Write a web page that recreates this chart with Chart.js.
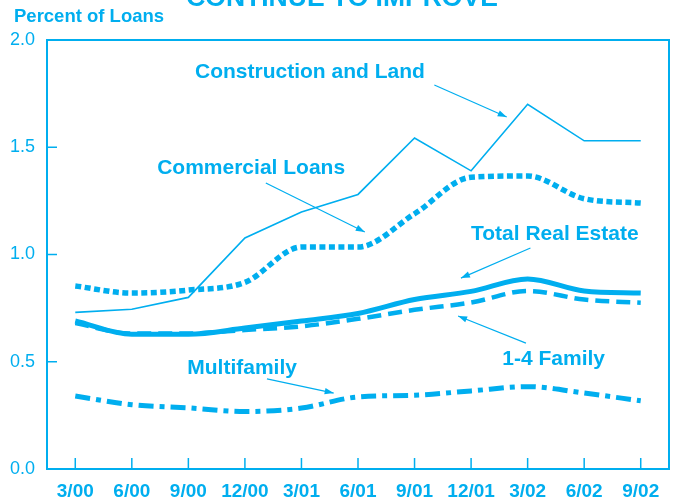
<!DOCTYPE html>
<html lang="en">
<head>
    <meta charset="UTF-8">
    <title>Problem Loans Continue To Improve</title>
    <script src="https://cdn.jsdelivr.net/npm/chart.js"></script>
    <style>
        body { margin: 0; background: #fff; }
        #wrap { width: 673px; height: 500px; }
    </style>
</head>
<body>
<div id="wrap"><canvas id="loanChart" width="673" height="500"></canvas></div>

<script>
    const BLUE = '#00AEEF';

    // quarters on the x axis
    const quarters = ['3/00', '6/00', '9/00', '12/00', '3/01', '6/01', '9/01', '12/01', '3/02', '6/02', '9/02'];
    const yTicks = [0, 0.5, 1.0, 1.5, 2.0];

    // percent of loans
    const constructionLand = [0.73, 0.745, 0.80, 1.077, 1.198, 1.28, 1.543, 1.39, 1.70, 1.53, 1.53];
    const commercialLoans  = [0.853, 0.82, 0.834, 0.87, 1.035, 1.035, 1.19, 1.36, 1.366, 1.26, 1.24];
    const totalRealEstate  = [0.69, 0.628, 0.628, 0.657, 0.69, 0.725, 0.79, 0.828, 0.886, 0.83, 0.82];
    const oneToFourFamily  = [0.68, 0.632, 0.632, 0.648, 0.665, 0.70, 0.742, 0.776, 0.83, 0.79, 0.775];
    const multifamily      = [0.34, 0.30, 0.285, 0.268, 0.284, 0.336, 0.344, 0.364, 0.384, 0.354, 0.318];

    // callout labels, placed in data units (category index, value)
    const callouts = [
        { text: 'Construction and Land', x: 4.15, y: 1.851, from: [6.35, 1.790], to: [7.63, 1.641] },
        { text: 'Commercial Loans',      x: 3.11, y: 1.403, from: [3.37, 1.333], to: [5.12, 1.105] },
        { text: 'Total Real Estate',     x: 8.48, y: 1.096, from: [8.05, 1.030], to: [6.82, 0.890] },
        { text: '1-4 Family',            x: 8.46, y: 0.510, from: [7.97, 0.587], to: [6.77, 0.713] },
        { text: 'Multifamily',           x: 2.95, y: 0.471, from: [3.39, 0.420], to: [4.57, 0.354] }
    ];

    function arrow(ctx, x1, y1, x2, y2) {
        const a = Math.atan2(y2 - y1, x2 - x1);
        ctx.beginPath();
        ctx.moveTo(x1, y1);
        ctx.lineTo(x2, y2);
        ctx.stroke();
        ctx.beginPath();
        ctx.moveTo(x2, y2);
        ctx.lineTo(x2 - 9 * Math.cos(a) + 3.2 * Math.sin(a), y2 - 9 * Math.sin(a) - 3.2 * Math.cos(a));
        ctx.lineTo(x2 - 9 * Math.cos(a) - 3.2 * Math.sin(a), y2 - 9 * Math.sin(a) + 3.2 * Math.cos(a));
        ctx.closePath();
        ctx.fill();
    }

    const decorations = {
        id: 'decorations',
        afterDraw(chart) {
            const ctx = chart.ctx;
            const area = chart.chartArea;
            const xs = chart.scales.x, ys = chart.scales.y;
            ctx.save();
            ctx.strokeStyle = BLUE;
            ctx.fillStyle = BLUE;

            // frame
            ctx.lineWidth = 2;
            ctx.strokeRect(area.left, area.top, area.right - area.left, area.bottom - area.top);

            // inner tick marks
            ctx.lineWidth = 1.5;
            ctx.beginPath();
            quarters.forEach((q, i) => {
                const px = xs.getPixelForValue(i);
                ctx.moveTo(px, area.bottom);
                ctx.lineTo(px, area.bottom - 11);
            });
            yTicks.forEach(v => {
                const py = ys.getPixelForValue(v);
                ctx.moveTo(area.left, py);
                ctx.lineTo(area.left + 10, py);
            });
            ctx.stroke();

            // title (cut off at the top edge) and axis caption
            ctx.textAlign = 'center';
            ctx.textBaseline = 'alphabetic';
            ctx.font = 'bold 26.5px "Liberation Sans", Arial, sans-serif';
            ctx.fillText('CONTINUE TO IMPROVE', 342, 6);

            ctx.textAlign = 'left';
            ctx.textBaseline = 'middle';
            ctx.font = 'bold 18.5px "Liberation Sans", Arial, sans-serif';
            ctx.fillText('Percent of Loans', 14, 17);

            // callouts
            ctx.font = 'bold 21px "Liberation Sans", Arial, sans-serif';
            ctx.textAlign = 'center';
            ctx.lineWidth = 1.2;
            callouts.forEach(c => {
                ctx.fillText(c.text, xs.getPixelForValue(c.x), ys.getPixelForValue(c.y));
                arrow(ctx,
                    xs.getPixelForValue(c.from[0]), ys.getPixelForValue(c.from[1]),
                    xs.getPixelForValue(c.to[0]), ys.getPixelForValue(c.to[1]));
            });
            ctx.restore();
        }
    };

    const ctx = document.getElementById('loanChart').getContext('2d');

    new Chart(ctx, {
        type: 'line',
        data: {
            labels: quarters,
            datasets: [
                { label: 'Construction and Land', data: constructionLand, borderColor: BLUE, borderWidth: 1.6, tension: 0 },
                { label: 'Commercial Loans', data: commercialLoans, borderColor: BLUE, borderWidth: 5.5, borderDash: [6, 3.5], cubicInterpolationMode: 'monotone' },
                { label: 'Total Real Estate', data: totalRealEstate, borderColor: BLUE, borderWidth: 5, cubicInterpolationMode: 'monotone' },
                { label: '1-4 Family', data: oneToFourFamily, borderColor: BLUE, borderWidth: 4.5, borderDash: [14, 7], cubicInterpolationMode: 'monotone' },
                { label: 'Multifamily', data: multifamily, borderColor: BLUE, borderWidth: 5, borderDash: [15, 6, 5, 6], cubicInterpolationMode: 'monotone' }
            ]
        },
        options: {
            responsive: false,
            animation: false,
            events: [],
            layout: { padding: { top: 40, right: 4, left: 0, bottom: 0 } },
            elements: { point: { radius: 0 }, line: { fill: false, borderCapStyle: 'butt' } },
            plugins: { legend: { display: false }, tooltip: { enabled: false } },
            scales: {
                x: {
                    offset: true,
                    grid: { display: false, drawTicks: false },
                    border: { display: false },
                    ticks: {
                        color: BLUE,
                        padding: 11,
                        maxRotation: 0,
                        font: { family: '"Liberation Sans", Arial, sans-serif', size: 19, weight: 'bold' }
                    },
                    afterFit: s => { s.height = 31; }
                },
                y: {
                    min: 0,
                    max: 2,
                    grid: { display: false, drawTicks: false },
                    border: { display: false },
                    afterBuildTicks: s => { s.ticks = yTicks.map(v => ({ value: v })); },
                    ticks: {
                        color: BLUE,
                        padding: 12,
                        callback: v => v.toFixed(1),
                        font: { family: '"Liberation Sans", Arial, sans-serif', size: 18 }
                    },
                    afterFit: s => { s.width = 47; }
                }
            }
        },
        plugins: [decorations]
    });
</script>
</body>
</html>
